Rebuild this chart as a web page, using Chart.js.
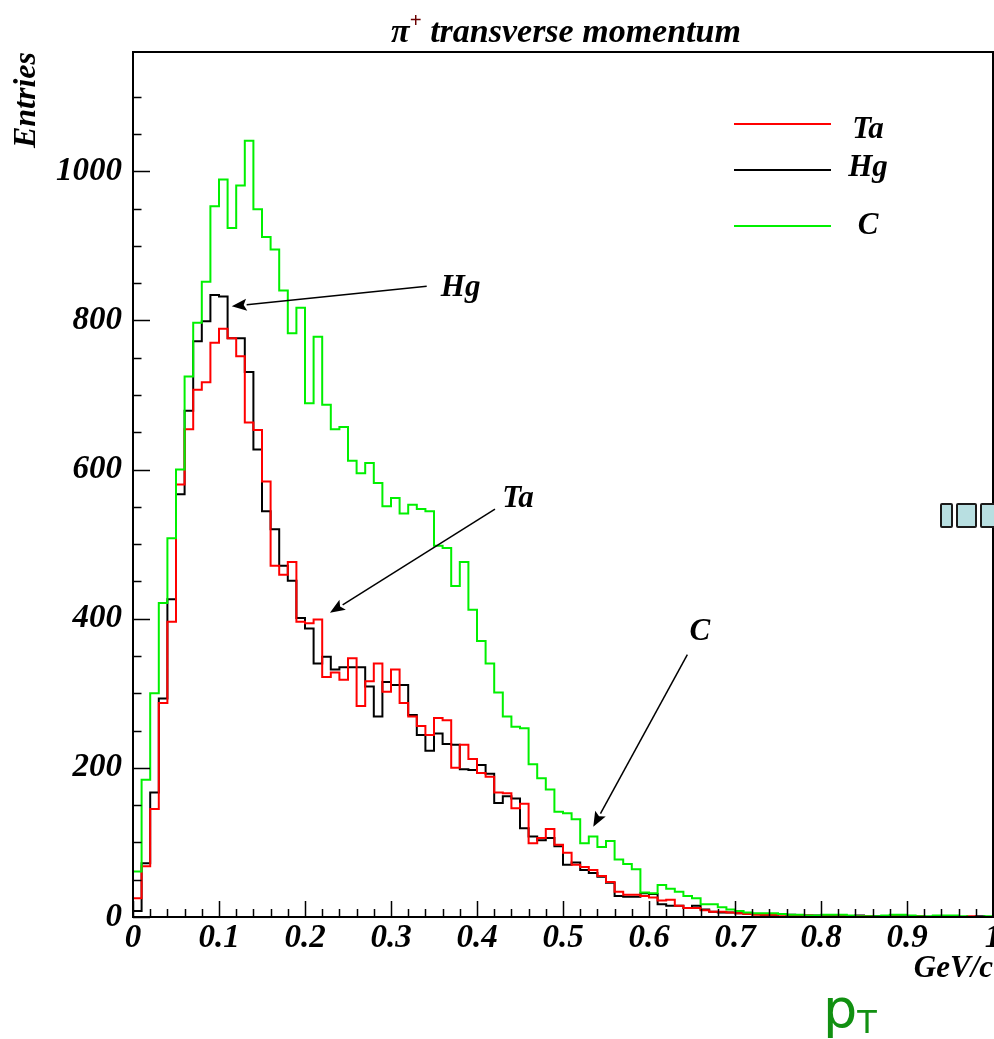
<!DOCTYPE html>
<html><head><meta charset="utf-8">
<script src="https://cdn.jsdelivr.net/npm/chart.js@4.4.1/dist/chart.umd.min.js"></script>
<style>
html,body{margin:0;padding:0;background:#fff;}
#wrap{position:relative;width:994px;height:1039px;overflow:hidden;}
canvas{display:block;}
.pt{position:absolute;left:823px;top:982px;font-family:"DejaVu Sans",sans-serif;font-size:54px;line-height:54px;color:#119011;}
.pt span{font-size:32px;position:relative;top:6px;}
.box{position:absolute;top:503px;height:21px;background:#b8dfe1;border:2px solid #1a1a1a;border-radius:2px;}
</style></head><body>
<div id="wrap">
<canvas id="c" width="994" height="1039"></canvas>
<div class="pt">p<span>T</span></div>
<div class="box" style="left:940px;width:9px"></div>
<div class="box" style="left:956px;width:17px"></div>
<div class="box" style="left:980px;width:17px"></div>
</div>
<script>
// bin lower edges (GeV/c)
const binLow = [0.00,0.01,0.02,0.03,0.04,0.05,0.06,0.07,0.08,0.09,
0.10,0.11,0.12,0.13,0.14,0.15,0.16,0.17,0.18,0.19,
0.20,0.21,0.22,0.23,0.24,0.25,0.26,0.27,0.28,0.29,
0.30,0.31,0.32,0.33,0.34,0.35,0.36,0.37,0.38,0.39,
0.40,0.41,0.42,0.43,0.44,0.45,0.46,0.47,0.48,0.49,
0.50,0.51,0.52,0.53,0.54,0.55,0.56,0.57,0.58,0.59,
0.60,0.61,0.62,0.63,0.64,0.65,0.66,0.67,0.68,0.69,
0.70,0.71,0.72,0.73,0.74,0.75,0.76,0.77,0.78,0.79,
0.80,0.81,0.82,0.83,0.84,0.85,0.86,0.87,0.88,0.89,
0.90,0.91,0.92,0.93,0.94,0.95,0.96,0.97,0.98,0.99];
const binEnd = 1.00;

const taValues = [25,68,145,287,396,580,654,707,717,770,
789,776,752,663,653,584,471,459,476,396,
394,399,322,328,318,347,283,316,340,302,
332,287,269,256,244,267,264,200,231,212,
193,188,167,166,146,152,99,106,118,97,
86,70,67,63,55,47,34,30,30,28,
26,22,23,15,12,12,9,7,7,6,
5,4,3,3,3,3,2,2,2,1,
1,1,2,1,1,1,0,1,1,0,
0,1,0,0,1,0,0,1,0,0];

const hgValues = [8,72,167,293,426,567,679,772,799,834,
832,776,776,731,627,544,520,471,451,401,
387,340,349,332,335,335,335,309,269,315,
311,311,271,244,223,246,232,231,198,197,
204,192,153,162,159,119,108,103,106,95,
70,73,63,59,54,46,28,27,27,32,
31,17,15,15,12,15,10,7,6,6,
5,4,4,3,3,4,3,2,2,2,
1,2,1,1,2,1,1,0,1,1,
0,1,0,1,0,1,0,0,1,0];

const cValues = [61,184,300,421,508,600,725,797,852,953,
989,924,981,1041,949,912,895,840,783,817,
689,778,687,654,657,612,595,609,582,551,
562,541,553,547,544,498,495,444,476,412,
370,340,301,269,255,253,205,186,171,141,
139,131,99,108,94,102,77,71,64,33,
32,43,38,34,28,25,17,17,13,10,
8,6,5,5,5,4,3,3,2,2,
3,3,3,2,1,1,1,2,3,3,
2,1,1,2,2,2,1,0,0,1];

const seriesNames = ['Ta','Hg','C'];
const xTickLabels = ['0','0.1','0.2','0.3','0.4','0.5','0.6','0.7','0.8','0.9','1'];
const yTickLabels = ['0','200','400','600','800','1000'];

function histPoints(vals){
  const pts = [{x: binLow[0], y: 0}];
  vals.forEach((v,i) => pts.push({x: binLow[i], y: v}));
  pts.push({x: binEnd, y: vals[vals.length-1]});
  return pts;
}

const serif = '"Liberation Serif","Times New Roman",serif';
const lblFont = {family: serif, size: 33, weight: 'bold', style: 'italic'};
const ttlFont = {family: serif, size: 31, weight: 'bold', style: 'italic'};

const annotations = [
  {text: 'Hg', at: [0.381, 843], from: [0.3415, 846], to: [0.1148, 819]},
  {text: 'Ta', at: [0.4477, 560], from: [0.4209, 547], to: [0.229, 408]},
  {text: 'C',  at: [0.659, 382], from: [0.6446, 352], to: [0.5352, 121]}
];

function drawArrow(ctx, x1, y1, x2, y2){
  const ang = Math.atan2(y2 - y1, x2 - x1);
  const L = 15, W = 6;
  const bx = x2 - L*Math.cos(ang), by = y2 - L*Math.sin(ang);
  ctx.beginPath(); ctx.moveTo(x1, y1); ctx.lineTo(bx, by); ctx.stroke();
  ctx.beginPath();
  ctx.moveTo(x2, y2);
  ctx.lineTo(bx + W*Math.sin(ang), by - W*Math.cos(ang));
  ctx.lineTo(x2 - 0.8*L*Math.cos(ang), y2 - 0.8*L*Math.sin(ang));
  ctx.lineTo(bx - W*Math.sin(ang), by + W*Math.cos(ang));
  ctx.closePath(); ctx.fill();
}

const rootStyle = {
  id: 'rootStyle',
  afterDatasetsDraw(chart){
    const {ctx, chartArea: a, scales: {x, y}} = chart;
    ctx.save();
    ctx.strokeStyle = '#000';
    ctx.lineWidth = 1.5;
    ctx.beginPath();
    y.ticks.forEach(t => {
      const q = t.value / 50;
      if (Math.abs(q - Math.round(q)) > 1e-6) return;
      const py = Math.round(y.getPixelForValue(t.value)) + 0.5;
      const len = (Math.round(q) % 4 === 0) ? 17 : 8.5;
      ctx.moveTo(a.left, py); ctx.lineTo(a.left + len, py);
    });
    x.ticks.forEach(t => {
      const q = t.value * 50;
      if (Math.abs(q - Math.round(q)) > 1e-6) return;
      const px = Math.round(x.getPixelForValue(t.value)) + 0.5;
      const len = (Math.round(q) % 5 === 0) ? 16 : 8;
      ctx.moveTo(px, a.bottom); ctx.lineTo(px, a.bottom - len);
    });
    ctx.stroke();
    // frame
    ctx.lineWidth = 2;
    ctx.strokeRect(a.left, a.top, a.right - a.left, a.bottom - a.top);
    ctx.restore();
  },
  afterDraw(chart){
    const {ctx, scales: {x, y}} = chart;
    ctx.save();
    // title
    ctx.fillStyle = '#000';
    ctx.textBaseline = 'alphabetic';
    const tFont = 'italic bold 34px ' + serif;
    const sFont = 'bold 21px ' + serif;
    ctx.font = tFont;
    const w1 = ctx.measureText('\u03c0').width;
    const w3 = ctx.measureText(' transverse momentum').width;
    ctx.font = sFont;
    const w2 = ctx.measureText('+').width;
    let tx = 566 - (w1 + w2 + w3)/2;
    ctx.font = tFont; ctx.textAlign = 'left';
    ctx.fillText('\u03c0', tx, 42); tx += w1;
    ctx.font = sFont; ctx.fillStyle = '#6a0000';
    ctx.fillText('+', tx, 27); tx += w2;
    ctx.font = tFont; ctx.fillStyle = '#000';
    ctx.fillText(' transverse momentum', tx, 42);

    // legend
    const legY = [124, 170, 226];
    const legTextY = [130, 168, 226];
    ctx.lineWidth = 2;
    chart.data.datasets.forEach((ds, i) => {
      ctx.strokeStyle = ds.borderColor;
      ctx.beginPath(); ctx.moveTo(734, legY[i]); ctx.lineTo(831, legY[i]); ctx.stroke();
      ctx.fillStyle = '#000';
      ctx.font = 'italic bold 31px ' + serif;
      ctx.textAlign = 'center'; ctx.textBaseline = 'middle';
      ctx.fillText(ds.label, 868, legTextY[i]);
    });

    // annotations with arrows
    ctx.strokeStyle = '#000'; ctx.fillStyle = '#000'; ctx.lineWidth = 1.5;
    annotations.forEach(an => {
      drawArrow(ctx, x.getPixelForValue(an.from[0]), y.getPixelForValue(an.from[1]),
                     x.getPixelForValue(an.to[0]), y.getPixelForValue(an.to[1]));
      ctx.font = 'italic bold 31px ' + serif;
      ctx.textAlign = 'center'; ctx.textBaseline = 'middle';
      ctx.fillText(an.text, x.getPixelForValue(an.at[0]), y.getPixelForValue(an.at[1]));
    });
    ctx.restore();
  }
};

const colors = ['#ff0000', '#000000', '#00f000'];
const valueSets = [taValues, hgValues, cValues];
const drawOrder = [1, 2, 0];

new Chart(document.getElementById('c'), {
  type: 'line',
  data: {
    datasets: seriesNames.map((name, i) => ({
      label: name,
      data: histPoints(valueSets[i]),
      borderColor: colors[i],
      borderWidth: 2,
      pointRadius: 0,
      stepped: 'before',
      fill: false,
      order: drawOrder[i]
    }))
  },
  options: {
    responsive: false,
    devicePixelRatio: 1,
    animation: false,
    layout: {padding: {top: 52, right: 1, left: 0, bottom: 0}},
    plugins: {legend: {display: false}, tooltip: {enabled: false}, title: {display: false}},
    scales: {
      x: {
        type: 'linear', min: 0, max: 1,
        grid: {display: false, drawTicks: false},
        border: {display: false},
        ticks: {
          stepSize: 0.02, autoSkip: false, maxRotation: 0, padding: 2,
          color: '#000', font: lblFont,
          callback: (v) => { const k = Math.round(v*50); return (Math.abs(v*50-k) < 1e-6 && k % 5 === 0) ? xTickLabels[k/5] : ''; }
        },
        title: {display: true, text: 'GeV/c', align: 'end', color: '#000', font: ttlFont, padding: {top: 0, bottom: 51}},
        afterFit: (s) => { s.height = 122; s.paddingLeft = 0; s.paddingRight = 0; }
      },
      y: {
        type: 'linear', min: 0, max: 1160,
        grid: {display: false, drawTicks: false},
        border: {display: false},
        ticks: {
          stepSize: 50, autoSkip: false, padding: 11,
          color: '#000', font: lblFont,
          callback: (v) => { const k = Math.round(v/200); return (Math.abs(v/200-k) < 1e-6) ? yTickLabels[k] : ''; }
        },
        title: {display: true, text: 'Entries', align: 'end', color: '#000', font: {family: serif, size: 32, weight: 'bold', style: 'italic'}, padding: {top: 8, bottom: 0}},
        afterFit: (s) => { s.width = 133; s.paddingTop = 0; s.paddingBottom = 0; }
      }
    }
  },
  plugins: [rootStyle]
});
</script>
</body></html>
